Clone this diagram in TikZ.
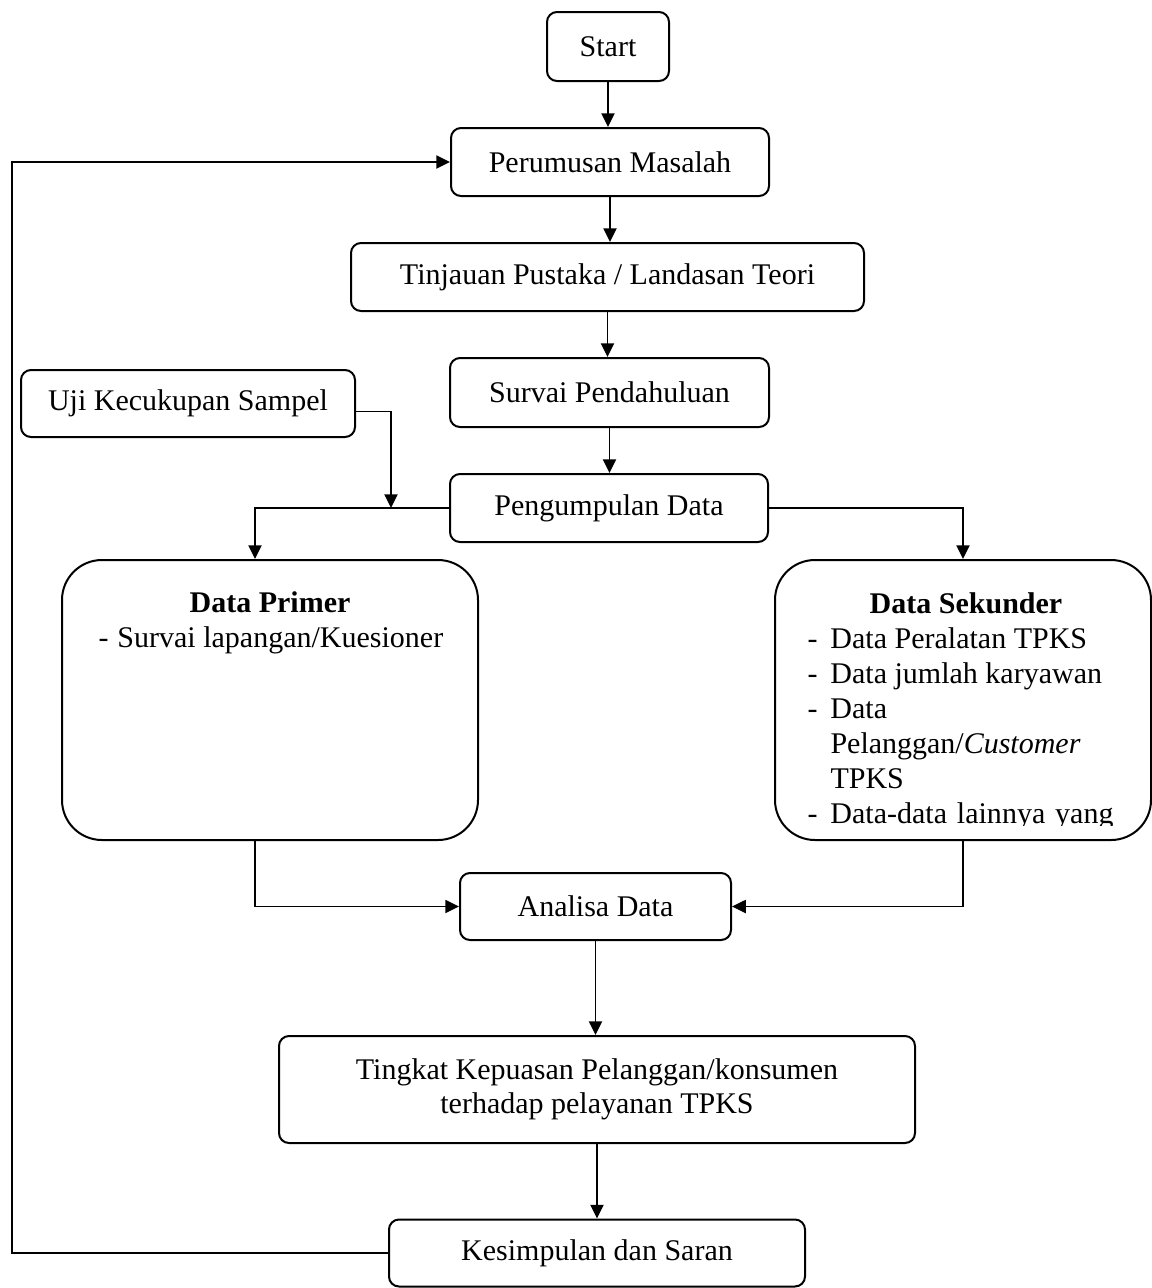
\documentclass[tikz,border=0pt]{standalone}
\usepackage{fontspec}
\setmainfont{Liberation Serif}
\usetikzlibrary{arrows.meta}

\newdimen\pxu
\pxu=0.4pt

\tikzset{
  kotak/.style n args={2}{draw, line width=0.8pt, rounded corners=4pt, inner sep=0pt,
    minimum width=#1\pxu, minimum height=#2\pxu},
  kotakbesar/.style n args={2}{draw, line width=0.8pt, rounded corners=16pt, inner sep=0pt,
    minimum width=#1\pxu, minimum height=#2\pxu},
  baris/.style={anchor=base west, inner sep=0pt},
  panah/.style={draw, line width=0.75pt, -{Triangle[length=5.5pt, width=5.2pt]}}
}

\begin{document}
\fontsize{12pt}{13.8pt}\selectfont
\begin{tikzpicture}[x=0.4pt, y=-0.4pt]
\useasboundingbox (0,0) rectangle (1152,1288);

% alur utama
\node[kotak={122}{69}] (start) at (608,46.5) {Start};
\node[kotak={318}{68}] (rumus) at (610,162) {Perumusan Masalah};
\node[kotak={513}{68}] (tinjau) at (607.5,277) {Tinjauan Pustaka / Landasan Teori};
\node[kotak={319}{69}] (survai) at (609.5,392.5) {Survai Pendahuluan};
\node[kotak={334}{67}] (uji) at (188,403.5) {Uji Kecukupan Sampel};
\node[kotak={318}{68}] (kumpul) at (609,508) {Pengumpulan Data};
\node[kotak={271}{67}] (analisa) at (595.5,906.5) {Analisa Data};
\node[kotak={636}{107}, align=center] (tingkat) at (597,1089.5)
  {Tingkat Kepuasan Pelanggan/konsumen\\terhadap pelayanan TPKS};
\node[kotak={416}{67}] (simpul) at (597,1253) {Kesimpulan dan Saran};

% data primer dan sekunder
\node[kotakbesar={416}{280}] (primer) at (270,700) {};
\node[kotakbesar={376}{280}] (sekunder) at (963,700) {};

\node[anchor=base, font=\bfseries] (judulprimer) at (270,612) {Data Primer};
\node[baris] (isiprimer) at (98,647) {\makebox[19\pxu][l]{-}Survai lapangan/Kuesioner};

\node[anchor=base, font=\bfseries] (judulsekunder) at (966,613) {Data Sekunder};
\begin{scope}
\clip (775,560) rectangle (1151,825);
\node[baris] (sek1) at (807,648) {\makebox[23\pxu][l]{-}Data Peralatan TPKS};
\node[baris] (sek2) at (807,683) {\makebox[23\pxu][l]{-}Data jumlah karyawan};
\node[baris] (sek3) at (807,718) {\makebox[23\pxu][l]{-}Data};
\node[baris] (sek4) at (830,753) {Pelanggan/\textit{Customer}};
\node[baris] (sek5) at (830,788) {TPKS};
\node[baris] (sek6) at (807,823)
  {\makebox[23\pxu][l]{-}\hbox to 283\pxu{Data-data\hfill lainnya\hfill yang}};
\end{scope}

% titik bantu
\coordinate (temu) at (391,508);
\coordinate (kiri) at (255,508);
\coordinate (luar) at (12,1253);

% panah
\draw[panah] (start) -- (start |- rumus.north);
\draw[panah] (rumus) -- (rumus |- tinjau.north);
\draw[panah] (tinjau) -- (tinjau |- survai.north);
\draw[panah] (survai) -- (survai |- kumpul.north);
\draw[panah] ([yshift=-3.2pt]uji.east) -| (temu);
\draw[panah] (kumpul.west) -- (kiri) -- (kiri |- primer.north);
\draw[panah] (kumpul.east) -| (sekunder.north);
\draw[panah] (kiri |- primer.south) -- (kiri |- analisa.west) -- (analisa.west);
\draw[panah] (sekunder.south) |- (analisa.east);
\draw[panah] (analisa) -- (analisa |- tingkat.north);
\draw[panah] (tingkat) -- (tingkat |- simpul.north);
\draw[panah] (simpul.west) -- (luar) |- (rumus.west);
\end{tikzpicture}
\end{document}
